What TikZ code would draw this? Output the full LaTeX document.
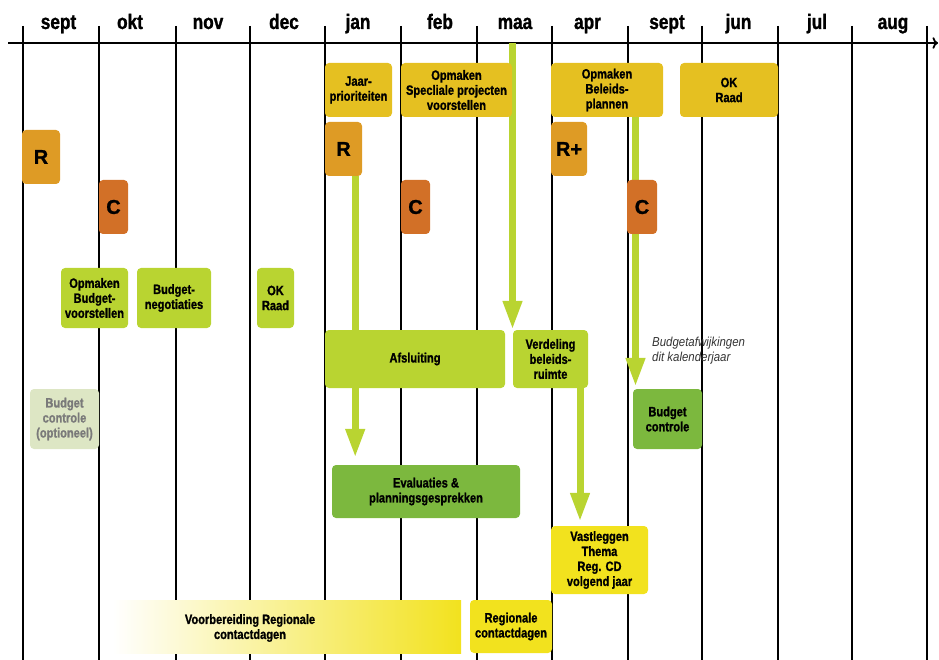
\documentclass[tikz,border=0pt]{standalone}
\usepackage{fontspec}
\setsansfont{Liberation Sans}[FakeStretch=0.82,BoldFeatures={FakeBold=1.2}]
\newfontfamily\breed{Liberation Sans}[BoldFeatures={FakeBold=1.2}]
\newfontfamily\schuin{Liberation Sans}[FakeStretch=0.88]
\usetikzlibrary{arrows.meta,calc}
\pgfdeclarelayer{achter}
\pgfsetlayers{achter,main}
\definecolor{okergeel}{HTML}{E5C021}
\definecolor{oranje}{HTML}{DE9B25}
\definecolor{roest}{HTML}{D27027}
\definecolor{limoen}{HTML}{B9D431}
\definecolor{groen}{HTML}{7CB83E}
\definecolor{vaalgroen}{HTML}{DDE6C4}
\definecolor{citroen}{HTML}{F2E21E}
\begin{document}
\begin{tikzpicture}[x=1pt,y=-1pt,>=To,
    blok/.style={rounded corners=4pt,inner sep=0pt,align=center,text=black,
      font=\sffamily\bfseries\fontsize{13.5}{15}\selectfont},
    letter/.style={blok,minimum height=54pt,font=\breed\bfseries\fontsize{20}{24}\selectfont},
    maand/.style={anchor=base,font=\sffamily\bfseries\fontsize{21}{24}\selectfont},
    pijl/.style={limoen,line width=7pt,-{Triangle[width=18pt,length=29pt]}}]
    \useasboundingbox (0,0) rectangle (939,660);
    % tijdlijn
    \begin{pgfonlayer}{achter}
    \draw[line width=1.8pt] (23,26)--(23,660) (99,26)--(99,660) (176,26)--(176,660) (250,26)--(250,660)
      (325,26)--(325,660) (401,26)--(401,660) (477,26)--(477,660) (552,26)--(552,660) (628,26)--(628,660)
      (702,26)--(702,660) (778,26)--(778,660) (852,26)--(852,660) (927,26)--(927,660);
    \draw[->,line width=1.8pt](8,43)--(938,43);
    \end{pgfonlayer}
    \path[maand] (58.5,29)node(sep){sept} (130,29)node(okt){okt} (208,29)node(nov){nov} (284,29)node(dec){dec}
      (358,29)node(jan){jan} (440,29)node(feb){feb} (515,29)node(maa){maa} (587.5,29)node(apr){apr}
      (667,29)node(sep2){sept} (738.5,29)node(jun){jun} (817,29)node(jul){jul} (893,29)node(aug){aug};
    % blokken
    \node[blok,fill=okergeel,minimum width=67pt,minimum height=54pt] (jaar) at (358.5,90) {Jaar-\\prioriteiten};
    \node[blok,fill=okergeel,minimum width=111pt,minimum height=54pt] (spec) at (456.5,90) {Opmaken\\Specliale projecten\\voorstellen};
    \node[blok,fill=okergeel,minimum width=112pt,minimum height=54pt] (beleid) at (607,90) {Opmaken\\Beleids-\\plannen};
    \node[blok,fill=okergeel,minimum width=98pt,minimum height=54pt] (okboven) at (729,90) {OK\\Raad};
    \node[letter,fill=oranje,minimum width=38pt] (r1) at (41,157) {R};
    \node[letter,fill=roest,minimum width=29pt] (c1) at (113.5,207) {C};
    \node[letter,fill=oranje,minimum width=37pt] (r2) at (343.5,149) {R};
    \node[letter,fill=roest,minimum width=29pt] (c2) at (415.5,207) {C};
    \node[letter,fill=oranje,minimum width=36pt] (rplus) at (569,149) {R+};
    \node[letter,fill=roest,minimum width=30pt] (c3) at (642,207) {C};
    \node[blok,fill=limoen,minimum width=67pt,minimum height=60pt] (opbud) at (94.5,298) {Opmaken\\Budget-\\voorstellen};
    \node[blok,fill=limoen,minimum width=74pt,minimum height=60pt] (bneg) at (174,298) {Budget-\\negotiaties};
    \node[blok,fill=limoen,minimum width=37pt,minimum height=60pt] (okmidden) at (275.5,298) {OK\\Raad};
    \node[blok,fill=limoen,minimum width=180pt,minimum height=58pt] (afsl) at (415,359) {Afsluiting};
    \node[blok,fill=limoen,minimum width=75pt,minimum height=58pt] (verd) at (550.5,359) {Verdeling\\beleids-\\ruimte};
    \node[blok,fill=vaalgroen,text=black!52,minimum width=69pt,minimum height=60pt] (bcopt) at (64.5,419) {Budget\\controle\\(optioneel)};
    \node[blok,fill=groen,minimum width=69pt,minimum height=60pt] (bc) at (667.5,419) {Budget\\controle};
    \node[blok,fill=groen,minimum width=188pt,minimum height=53pt] (eval) at (426,491.5) {Evaluaties \&\\planningsgesprekken};
    \node[blok,fill=citroen,minimum width=97pt,minimum height=68pt] (vast) at (599.5,560) {Vastleggen\\Thema\\Reg. CD\\volgend jaar};
    \node[blok,rounded corners=0pt,left color=white,right color=citroen,minimum width=348pt,minimum height=53pt] (voorb) at (287,626.5) {};
    \node[blok] (voorbtxt) at (250,628) {Voorbereiding Regionale\\contactdagen};
    \node[blok,fill=citroen,minimum width=82pt,minimum height=53pt] (regcd) at (511,626.5) {Regionale\\contactdagen};
    \node[anchor=north west,inner sep=0pt,align=left,text=black!80,font=\schuin\itshape\fontsize{13}{15}\selectfont] (afw) at (652,337) {Budgetafwijkingen\\dit kalenderjaar};
    % pijlen
    \coordinate (maatop) at (512.5,43);
    \coordinate (r2voet) at ([xshift=-7pt]r2.south east);
    \coordinate (verdvoet) at ([xshift=29.5pt]verd.south);
    \coordinate (beleidvoet) at ([xshift=28.5pt]beleid.south);
    \begin{pgfonlayer}{achter}
    \draw[pijl] (maatop)--(maatop |- verd.north);
    \draw[pijl] (r2voet)--($(r2voet |- eval.north)+(0,-7)$);
    \draw[pijl] (verdvoet)--($(verdvoet |- vast.north)+(0,-4)$);
    \draw[pijl] (beleidvoet)--($(beleidvoet |- bc.north)+(0,-2)$);
    \end{pgfonlayer}
\end{tikzpicture}
\end{document}
